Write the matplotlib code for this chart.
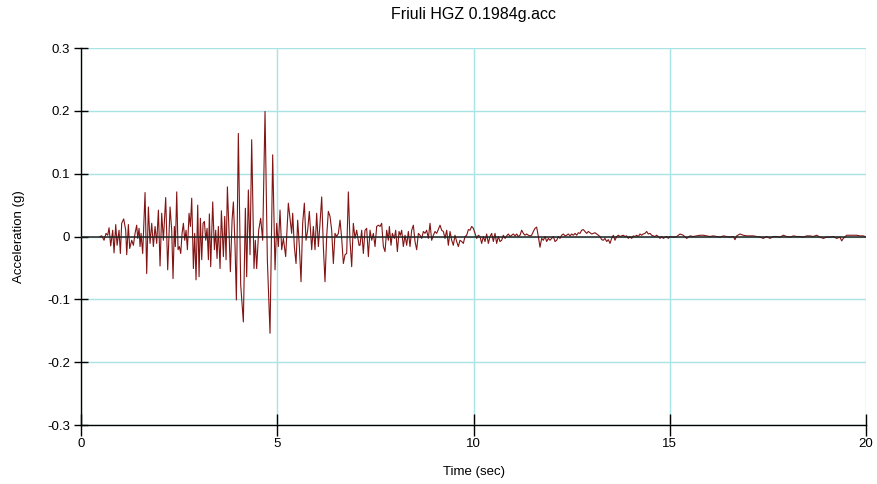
import matplotlib.pyplot as plt
import numpy as np

plt.rcParams['font.family'] = ['Liberation Sans', 'DejaVu Sans']

# ground motion record (time in s, acceleration in g)
t_strong = [0.48, 0.527, 0.586, 0.637, 0.680, 0.714, 0.756, 0.807, 0.841, 0.884, 0.918,
            0.968, 1.002, 1.036, 1.087, 1.138, 1.164, 1.206, 1.240, 1.291, 1.334,
            1.376, 1.418, 1.444, 1.478, 1.504, 1.529, 1.571, 1.631, 1.673, 1.716,
            1.758, 1.801, 1.843, 1.886, 1.928, 1.971, 2.013, 2.055, 2.098, 2.157,
            2.208, 2.268, 2.310, 2.344, 2.378, 2.404, 2.438, 2.472, 2.506, 2.540,
            2.574, 2.608, 2.642, 2.676, 2.710, 2.752, 2.786, 2.820, 2.863, 2.896,
            2.930, 2.973, 3.007, 3.041, 3.075, 3.109, 3.143, 3.177, 3.211, 3.245,
            3.270, 3.304, 3.355, 3.398, 3.431, 3.465, 3.499, 3.542, 3.576, 3.627,
            3.661, 3.695, 3.729, 3.763, 3.805, 3.848, 3.882, 3.924, 3.958, 4.008,
            4.068, 4.136, 4.187, 4.221, 4.263, 4.306, 4.348, 4.407, 4.441, 4.475,
            4.526, 4.577, 4.628, 4.688, 4.747, 4.815, 4.883, 4.943, 4.985, 5.027,
            5.070, 5.112, 5.155, 5.214, 5.282, 5.325, 5.367, 5.393, 5.435, 5.478,
            5.520, 5.563, 5.605, 5.647, 5.690, 5.732, 5.775, 5.817, 5.877, 5.919,
            5.962, 6.004, 6.047, 6.089, 6.132, 6.174, 6.216, 6.259, 6.301, 6.344,
            6.386, 6.429, 6.471, 6.514, 6.556, 6.599, 6.641, 6.684, 6.726, 6.769,
            6.811, 6.853, 6.896, 6.938, 6.981, 7.023, 7.083]
a_strong = [0.0, 0.001, -0.006, 0.005, 0.002, 0.014, -0.015, 0.010, -0.026, 0.019, -0.014,
            0.010, -0.027, 0.021, 0.028, 0.010, -0.029, 0.019, -0.019, -0.006, -0.014,
            0.005, 0.018, -0.003, 0.013, -0.016, 0.005, -0.027, 0.070, -0.059, 0.047,
            -0.011, 0.021, -0.016, 0.016, -0.011, 0.042, -0.047, 0.037, -0.006, 0.062,
            -0.053, 0.047, 0.010, -0.067, 0.016, -0.016, 0.071, -0.021, -0.016, -0.027,
            0.005, 0.021, -0.006, 0.010, -0.021, 0.037, 0.016, 0.061, -0.051, 0.005,
            -0.069, 0.050, -0.064, 0.029, -0.037, 0.021, 0.024, -0.006, 0.013, -0.037,
            0.036, -0.048, 0.055, -0.021, 0.010, -0.035, 0.016, -0.051, 0.041, -0.032,
            0.032, -0.037, 0.079, 0.021, -0.056, 0.026, 0.055, -0.016, -0.101, 0.164,
            -0.077, -0.136, 0.045, -0.064, 0.074, -0.029, 0.154, -0.051, -0.006, -0.051,
            0.010, 0.029, -0.006, 0.199, -0.037, -0.154, 0.130, -0.053, 0.021, -0.016,
            0.042, -0.021, -0.003, -0.032, 0.053, 0.029, 0.005, 0.037, -0.016, -0.043,
            0.026, -0.016, -0.072, 0.021, 0.053, -0.006, 0.010, 0.040, -0.021, 0.016,
            -0.021, 0.037, -0.016, 0.021, 0.063, -0.016, -0.072, 0.000, 0.040, 0.032,
            0.010, -0.043, 0.005, 0.000, 0.005, 0.026, -0.003, -0.043, -0.029, -0.027,
            0.071, -0.006, -0.048, 0.021, -0.003, 0.010, -0.014]

t_mid = [7.108, 7.151, 7.193, 7.236, 7.278, 7.321, 7.363, 7.406, 7.448, 7.491, 7.533,
         7.575, 7.618, 7.660, 7.703, 7.745, 7.788, 7.830, 7.856, 7.898, 7.932, 7.983,
         8.017, 8.060, 8.102, 8.136, 8.170, 8.212, 8.255, 8.297, 8.340, 8.382, 8.425,
         8.467, 8.510, 8.552, 8.595, 8.637, 8.680, 8.722, 8.764, 8.807, 8.849, 8.892,
         8.934, 8.977, 9.019, 9.062, 9.147, 9.189, 9.232, 9.274, 9.317, 9.359, 9.402,
         9.444, 9.486, 9.529, 9.571, 9.614, 9.656, 9.699, 9.741, 9.784, 9.826, 9.869,
         9.911, 9.953, 9.996, 10.038, 10.081, 10.123, 10.166]
a_mid = [-0.014, 0.010, -0.027, 0.010, 0.013, -0.032, 0.010, -0.006, 0.005, -0.016, 0.016,
         0.018, 0.016, 0.021, -0.016, -0.024, 0.010, -0.006, 0.016, -0.014, 0.005, -0.003,
         0.010, -0.024, 0.008, 0.002, 0.010, -0.016, 0.002, -0.014, 0.008, -0.016, 0.010,
         0.018, -0.008, -0.021, 0.005, 0.002, -0.003, 0.008, 0.005, 0.010, -0.003, 0.021,
         -0.006, 0.002, 0.008, 0.005, 0.018, 0.010, 0.008, -0.003, 0.010, -0.014, 0.008,
         -0.006, -0.014, 0.002, -0.008, -0.016, -0.006, -0.008, -0.011, 0.000, 0.002, 0.011,
         0.010, 0.016, 0.013, 0.005, -0.003, 0.002, 0.000]

t_late = [10.208, 10.251, 10.293, 10.336, 10.378, 10.421, 10.463, 10.506, 10.548, 10.590,
          10.633, 10.675, 10.718, 10.760, 10.803, 10.845, 10.888, 10.930, 10.973, 11.015,
          11.058, 11.100, 11.142, 11.185, 11.227, 11.270, 11.312, 11.355, 11.397, 11.440,
          11.482, 11.525, 11.567, 11.609, 11.652, 11.694, 11.737, 11.779, 11.822, 11.864,
          11.907, 11.949, 11.992, 12.034, 12.077, 12.119, 12.162, 12.204, 12.246, 12.289,
          12.331, 12.374, 12.416, 12.459, 12.501, 12.544, 12.586, 12.629, 12.671, 12.714,
          12.756, 12.798, 12.841, 12.883, 12.926, 12.968, 13.011, 13.053, 13.096, 13.138,
          13.181, 13.223, 13.266, 13.308, 13.350, 13.393, 13.435, 13.478, 13.520, 13.563,
          13.605, 13.648, 13.690, 13.733, 13.775, 13.818, 13.860, 13.902, 13.945, 13.987,
          14.030, 14.072, 14.115, 14.157, 14.200, 14.242, 14.285, 14.327, 14.370, 14.412,
          14.454, 14.497, 14.539, 14.582, 14.624, 14.667, 14.709, 14.752, 14.794, 14.837,
          14.879, 14.922, 14.964, 15.006]
a_late = [-0.011, 0.000, -0.008, 0.004, -0.011, 0.000, 0.005, -0.008, 0.005, -0.011,
          0.000, -0.008, -0.006, 0.002, -0.003, 0.001, 0.004, 0.000, 0.002, 0.004,
          0.001, 0.004, 0.000, 0.002, 0.010, 0.005, 0.002, 0.004, 0.002, 0.001,
          0.002, 0.008, 0.013, 0.015, 0.000, -0.017, -0.003, -0.006, 0.000, -0.008,
          -0.003, -0.006, -0.003, 0.000, -0.008, -0.006, 0.000, -0.003, 0.002, 0.004,
          0.001, 0.002, 0.004, 0.001, 0.004, 0.002, 0.005, 0.002, 0.006, 0.005,
          0.010, 0.011, 0.008, 0.005, 0.008, 0.006, 0.004, 0.005, 0.006, 0.004,
          0.002, 0.000, -0.005, -0.006, -0.003, -0.008, -0.005, -0.011, -0.003, 0.002,
          -0.006, 0.000, 0.002, 0.000, 0.001, 0.002, 0.000, 0.001, -0.003, 0.000,
          -0.003, 0.001, 0.000, 0.002, 0.000, 0.004, 0.002, 0.004, 0.005, 0.008,
          0.004, 0.005, 0.002, 0.001, 0.000, 0.002, 0.000, -0.003, 0.000, -0.003,
          -0.001, 0.000, -0.003, 0.000]

t_tail = [15.092, 15.177, 15.262, 15.346, 15.431, 15.516, 15.601, 15.686, 15.771, 15.856,
          15.941, 16.026, 16.111, 16.196, 16.281, 16.366, 16.450, 16.535, 16.620, 16.663,
          16.705, 16.790, 16.875, 16.960, 17.045, 17.130, 17.215, 17.300, 17.385, 17.470,
          17.555, 17.640, 17.724, 17.809, 17.894, 17.979, 18.064, 18.149, 18.234, 18.319,
          18.404, 18.489, 18.574, 18.659, 18.744, 18.829, 18.913, 18.998, 19.083, 19.168,
          19.253, 19.338, 19.381, 19.423, 19.508, 19.593, 19.678, 19.763, 19.848, 19.933,
          19.975]
a_tail = [-0.001, 0.000, 0.004, 0.002, -0.003, 0.001, 0.000, 0.001, 0.002, 0.002,
          0.001, 0.000, 0.001, 0.000, -0.001, 0.001, 0.000, -0.001, 0.000, -0.005,
          0.001, 0.004, 0.002, 0.001, 0.001, 0.001, 0.000, -0.001, -0.003, 0.000,
          -0.003, 0.000, 0.000, -0.001, 0.002, 0.000, -0.001, 0.001, 0.000, 0.000,
          -0.001, 0.001, 0.001, 0.000, 0.002, -0.001, -0.003, -0.001, -0.001, 0.000,
          -0.003, -0.001, -0.007, -0.003, 0.002, 0.002, 0.002, 0.002, 0.001, 0.001,
          0.000]

x_ticks = [0, 5, 10, 15, 20]
y_ticks = [-0.3, -0.2, -0.1, 0, 0.1, 0.2, 0.3]
y_labels = ['-0.3', '-0.2', '-0.1', '0', '0.1', '0.2', '0.3']

t = np.array(t_strong + t_mid + t_late + t_tail)
acc = np.array(a_strong + a_mid + a_late + a_tail)

fig = plt.figure(figsize=(8.78, 4.84), dpi=100)
ax = fig.add_axes([0.0923, 0.1219, 0.894, 0.7789])

ax.plot(t, acc, color='#821414', lw=0.8, zorder=3)
ax.axhline(0, color='#222222', lw=1.1, zorder=4)

ax.set_xlim(0, 20)
ax.set_ylim(-0.3, 0.3)
ax.set_xticks(x_ticks)
ax.set_yticks(y_ticks)
ax.set_yticklabels(y_labels)
ax.grid(True, color='#a8e4e4', lw=1.0, zorder=0)
ax.set_axisbelow(True)

for s in ['top', 'right']:
    ax.spines[s].set_visible(False)
for s in ['left', 'bottom']:
    ax.spines[s].set_color('black')
    ax.spines[s].set_linewidth(1.0)

ax.tick_params(axis='x', direction='inout', length=16, width=1, labelsize=9.5, pad=1)
ax.tick_params(axis='y', direction='inout', length=10, width=1, labelsize=9.5, pad=3)

ax.set_title('Friuli HGZ 0.1984g.acc', fontsize=11.5, pad=21)
ax.set_xlabel('Time (sec)', fontsize=9.5, labelpad=12)
ax.set_ylabel('Acceleration (g)', fontsize=9.5, labelpad=16)

fig.savefig('out.png', dpi=100)
